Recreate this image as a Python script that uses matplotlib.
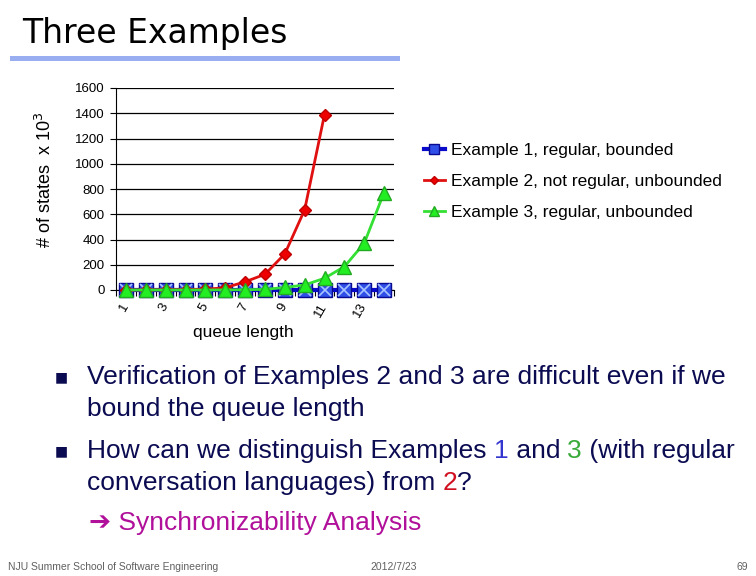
import numpy as np
import matplotlib.pyplot as plt
from matplotlib.patches import Rectangle

# chart data
queue_len = list(range(1, 15))
ex1_states = [0, 0, 0, 0, 0, 0, 0, 0, 0, 0, 0, 0, 0, 0]
ex2_len = list(range(1, 12))
ex2_states = [0, 1, 2, 3, 6, 18, 65, 124, 286, 635, 1390]
ex3_states = [0, 0, 0, 0, 0, 1, 2, 5, 20, 40, 93, 185, 370, 772]
tick_shown = [1, 3, 5, 7, 9, 11, 13]
series_labels = ["Example 1, regular, bounded",
                 "Example 2, not regular, unbounded",
                 "Example 3, regular, unbounded"]

W, H = 756, 576
fig = plt.figure(figsize=(W / 100, H / 100), dpi=100)
fig.patch.set_facecolor('white')

# pixel -> figure fraction helpers
def fx(px):
    return px / W

def fy(py):
    return 1 - py / H

chart_font = 'Liberation Sans'
body_font = ['Liberation Sans', 'DejaVu Sans']

# slide title and the blue bar under it
fig.text(fx(22), fy(33), "Three Examples", fontsize=23.8, family='DejaVu Sans',
         va='center', ha='left', color='black')
fig.patches.append(Rectangle((fx(10), fy(61)), fx(390), 5 / H, transform=fig.transFigure,
                             facecolor='#98AEF0', edgecolor='none'))

# chart
ax = fig.add_axes([fx(116), fy(290), fx(394 - 116), (290 - 88) / H])
ax.set_xlim(0.5, 14.5)
ax.set_ylim(0, 1600)
ax.set_yticks(range(0, 1601, 200))
ax.set_yticklabels([str(v) for v in range(0, 1601, 200)], fontsize=9.5, family=chart_font)
ax.yaxis.grid(True, color='black', lw=0.9)
ax.set_axisbelow(True)
for s in ['top', 'right']:
    ax.spines[s].set_visible(False)
ax.tick_params(axis='y', length=4, width=0.8, pad=4)

# ticks on category boundaries, labels on every other category
ax.set_xticks(np.arange(0.5, 15, 1.0))
ax.set_xticklabels([])
ax.tick_params(axis='x', which='major', length=4, width=0.8)
ax.set_xticks(tick_shown, minor=True)
ax.set_xticklabels([str(t) for t in tick_shown], minor=True, rotation=60,
                   ha='right', va='center', rotation_mode='anchor',
                   fontsize=9.5, family=chart_font)
ax.tick_params(axis='x', which='minor', length=0, pad=10)

l1, = ax.plot(queue_len, ex1_states, color='#0A0ACC', lw=3, marker='s', ms=10,
              mfc='#2F4FE8', mec='#0A0A90', mew=1, zorder=3, clip_on=False)
ax.plot(queue_len, ex1_states, ls='none', marker='x', ms=8, mec='#A8C4FF', mew=1.2,
        zorder=3, clip_on=False)
l2, = ax.plot(ex2_len, ex2_states, color='#E01010', lw=2, marker='D', ms=6.5,
              mfc='#EE0000', mec='#C00000', zorder=4, clip_on=False)
l3, = ax.plot(queue_len, ex3_states, color='#33E033', lw=2, marker='^', ms=10,
              mfc='#22EE22', mec='#22AA22', zorder=5, clip_on=False)

ax.legend([l1, l2, l3], series_labels, loc='upper left',
          bbox_to_anchor=(fx(424), fy(143)), bbox_transform=fig.transFigure,
          frameon=False, prop={'family': body_font, 'size': 12.5},
          handlelength=1.2, handletextpad=0.35, labelspacing=0.9, markerscale=0.65,
          borderpad=0, borderaxespad=0)

fig.text(fx(45), fy(180), "# of states  x 10$^3$", rotation=90, fontsize=13,
         family=chart_font, ha='center', va='center')
fig.text(fx(243), fy(333), "queue length", fontsize=12.5, family=chart_font,
         ha='center', va='center')

# bullet text
navy = '#0B0B52'
fs = 19
renderer = fig.canvas.get_renderer()

def colored_line(x, y, pieces):
    # lay coloured pieces of one line side by side
    for txt, col in pieces:
        tt = fig.text(fx(x), fy(y), txt, fontsize=fs, color=col, family=body_font,
                      va='center', ha='left')
        x += tt.get_window_extent(renderer).width

for by in [377, 451]:
    fig.text(fx(55), fy(by), "\u25A0", fontsize=10, color=navy, va='center', ha='left',
             family='DejaVu Sans')

colored_line(87, 377, [("Verification of Examples 2 and 3 are difficult even if we", navy)])
colored_line(87, 409, [("bound the queue length", navy)])
colored_line(87, 451, [("How can we distinguish Examples ", navy), ("1", '#3535D0'),
                       (" and ", navy), ("3", '#3AAA3A'), (" (with regular", navy)])
colored_line(87, 483, [("conversation languages) from ", navy), ("2", '#D01020'),
                       ("?", navy)])
fig.text(fx(89), fy(523), "\u2794 Synchronizability Analysis", fontsize=fs, color='#B0109A',
         family=body_font, va='center', ha='left')

# footer
gray = '#606060'
fig.text(fx(8), fy(567), "NJU Summer School of Software Engineering", fontsize=7.5,
         color=gray, family=chart_font, va='center', ha='left')
fig.text(fx(370), fy(567), "2012/7/23", fontsize=7.5, color=gray, family=chart_font,
         va='center', ha='left')
fig.text(fx(748), fy(567), "69", fontsize=7.5, color=gray, family=chart_font,
         va='center', ha='right')

fig.savefig("out.png", dpi=100)
